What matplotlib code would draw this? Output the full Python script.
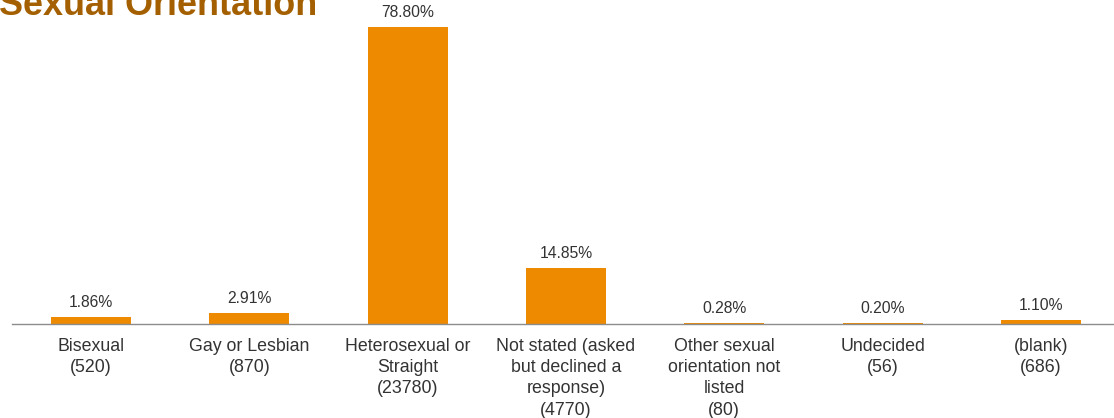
import matplotlib
matplotlib.use('Agg')
import matplotlib.pyplot as plt

plt.rcParams['font.family'] = ['Liberation Sans', 'DejaVu Sans']

# Survey responses: share of respondents per category
categories = ['Bisexual\n(520)', 'Gay or Lesbian\n(870)', 'Heterosexual or\nStraight\n(23780)',
              'Not stated (asked\nbut declined a\nresponse)\n(4770)',
              'Other sexual\norientation not\nlisted\n(80)', 'Undecided\n(56)', '(blank)\n(686)']
percent = [1.86, 2.91, 78.80, 14.85, 0.28, 0.20, 1.10]

bar_color = '#EE8A00'
title_color = '#A35F00'
text_color = '#333333'

W, H = 1114, 418
fig = plt.figure(figsize=(W / 100, H / 100), dpi=100)
# axes spans slightly beyond the right edge so the last slot is cropped
ax = fig.add_axes([12 / W, (H - 324) / H, 1108 / W, 324 / H])

x = list(range(len(categories)))
bars = ax.bar(x, percent, width=0.505, color=bar_color, zorder=2)
ax.set_xlim(-0.5, len(categories) - 0.5)
ax.set_ylim(0, 86)

for xi, v in zip(x, percent):
    ax.annotate(f'{v:.2f}%', (xi, v), xytext=(0, 5), textcoords='offset points',
                ha='center', va='bottom', fontsize=11.3, color=text_color)

ax.set_xticks(x)
ax.set_xticklabels(categories, fontsize=12.8, color=text_color, linespacing=1.33)
ax.tick_params(axis='x', length=0, pad=10)
ax.set_yticks([])
for side in ['top', 'left', 'right']:
    ax.spines[side].set_visible(False)
ax.spines['bottom'].set_color('#8c8c8c')
ax.spines['bottom'].set_linewidth(1.0)

fig.text(317 / W, 1 - 15 / H, 'Sexual Orientation', ha='right', va='baseline',
         fontsize=25.9, fontweight='bold', color=title_color)

fig.savefig('out.png', dpi=100)
